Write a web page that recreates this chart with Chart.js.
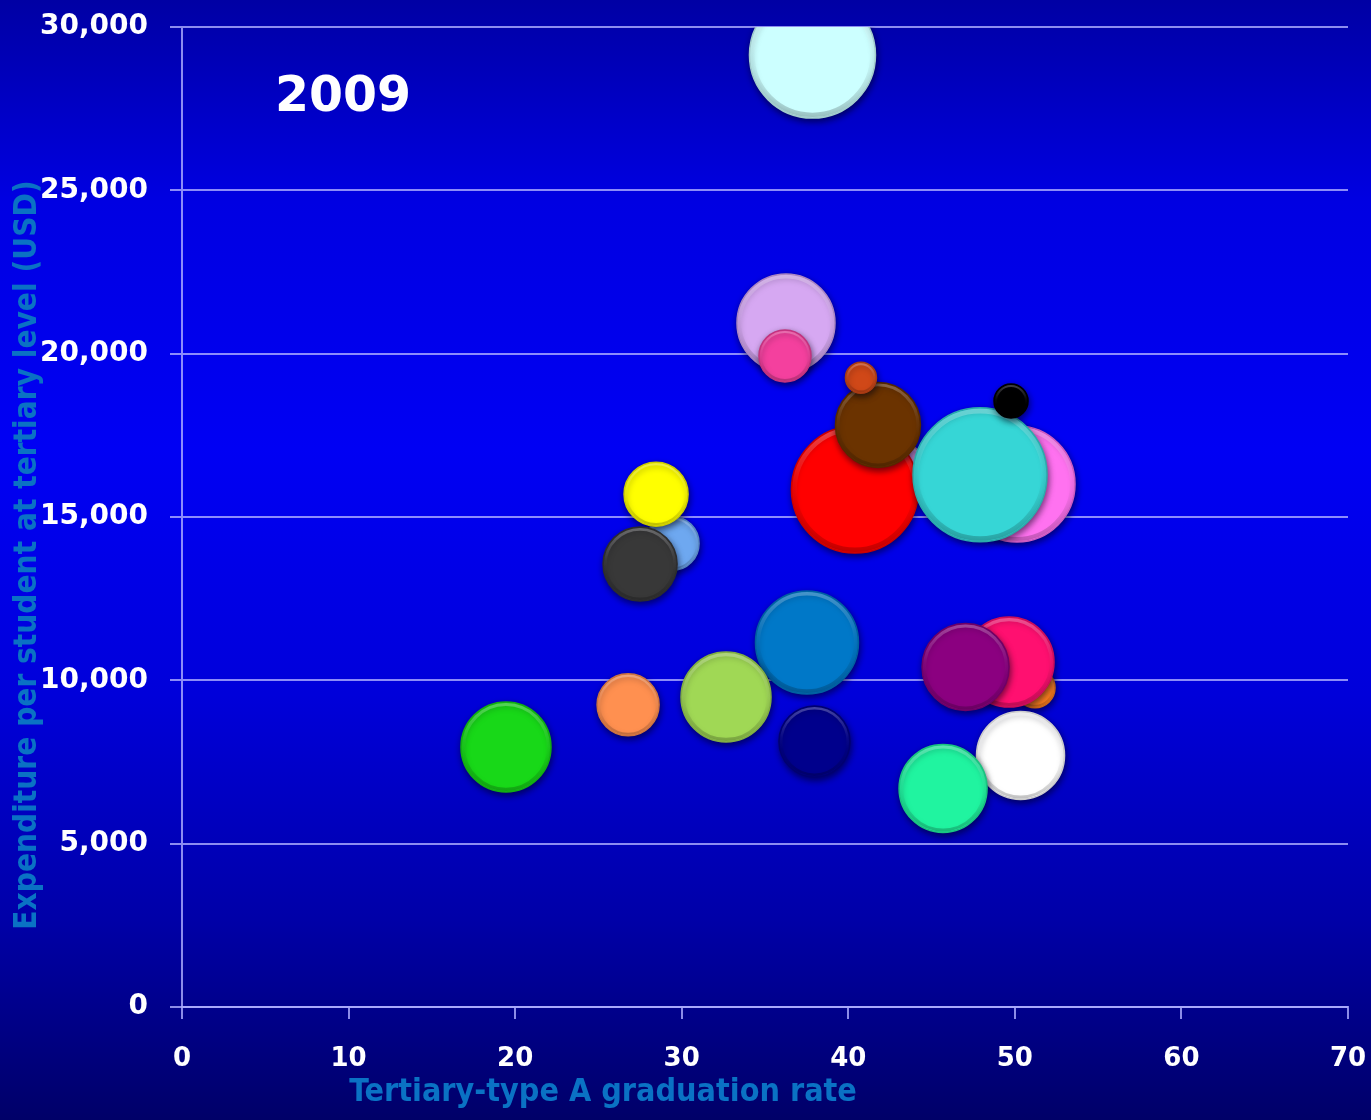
<!DOCTYPE html>
<html>
<head>
<meta charset="utf-8">
<script src="https://cdn.jsdelivr.net/npm/chart.js@4/dist/chart.umd.min.js"></script>
<style>
  html, body { margin: 0; padding: 0; background: #0000c8; }
  #wrap { width: 1371px; height: 1120px; position: relative; }
</style>
</head>
<body>
<div id="wrap"><canvas id="c" width="1371" height="1120"></canvas></div>
<script>
// ---- data ----
const yearLabel = "2009";
const xTitle = "Tertiary-type A graduation rate";
const yTitle = "Expenditure per student at tertiary level (USD)";
const xTicks = [0, 10, 20, 30, 40, 50, 60, 70];
const yTicks = [0, 5000, 10000, 15000, 20000, 25000, 30000];

// graduation rate (%), in drawing order
const gradRate = [43.4, 37.85, 36.26, 36.20, 40.40, 41.78, 40.76, 50.13, 47.91, 49.77,
                  29.42, 28.46, 27.50, 37.52, 32.66, 26.78, 19.45, 37.97, 51.21, 49.65,
                  47.04, 50.34, 45.69];
// expenditure per student (USD)
const expenditure = [16590, 29140, 20940, 19930, 15840, 17820, 19260, 16010, 16290, 18550,
                     14190, 15700, 13560, 11160, 9490, 9250, 7960, 8130, 9770, 10560,
                     10410, 7700, 6690];
// bubble size (third variable)
const bubbleSize = [20, 63, 49, 26, 63.5, 42.5, 15.5, 58, 67, 17,
                    27, 32, 37, 51.5, 45, 31, 45, 35.5, 20, 45,
                    43.5, 44, 44];
const bubbleColors = ["#dca0f0", "#ccffff", "#d6a8f2", "#f4409e", "#ff0000", "#6b3300", "#d04818",
                      "#ff72f0", "#36d6d6", "#000000", "#6ea8f0", "#ffff00", "#383838", "#0078c8",
                      "#a0d855", "#ff9050", "#18d818", "#00008c", "#ff8020", "#ff1070", "#8b0080",
                      "#ffffff", "#20f4a0"];

const points = gradRate.map((x, i) => ({ x: x, y: expenditure[i], r: bubbleSize[i] }));

function darker(hex, f) {
  const n = parseInt(hex.slice(1), 16);
  const r = Math.round(((n >> 16) & 255) * f), g = Math.round(((n >> 8) & 255) * f), b = Math.round((n & 255) * f);
  return "rgb(" + r + "," + g + "," + b + ")";
}

const FONT = "'DejaVu Sans', Verdana, sans-serif";
const TITLE_FONT = "'Comic Sans MS', 'DejaVu Sans Condensed', 'DejaVu Sans', sans-serif";

function fitFont(ctx, text, family, baseSize, targetWidth) {
  ctx.font = "bold " + baseSize + "px " + family;
  const w = ctx.measureText(text).width;
  const s = baseSize * targetWidth / w;
  ctx.font = "bold " + s.toFixed(1) + "px " + family;
}

function zeroPad(s) { s.paddingTop = 0; s.paddingBottom = 0; s.paddingLeft = 0; s.paddingRight = 0; }

const bgPlugin = {
  id: "bg",
  beforeDraw(chart) {
    const ctx = chart.ctx, W = chart.width, H = chart.height;
    ctx.save();
    const g = ctx.createLinearGradient(0, 0, 0, H);
    g.addColorStop(0.00, "#0000a4");
    g.addColorStop(0.18, "#0000e2");
    g.addColorStop(0.40, "#0000f4");
    g.addColorStop(0.62, "#0000da");
    g.addColorStop(0.82, "#0000a8");
    g.addColorStop(1.00, "#000068");
    ctx.fillStyle = g;
    ctx.fillRect(0, 0, W, H);

    // axis titles (drawn beneath tick labels, as in the original)
    ctx.fillStyle = "#0a72c4";
    ctx.textAlign = "center";
    ctx.textBaseline = "middle";
    fitFont(ctx, xTitle, TITLE_FONT, 26, 507);
    ctx.fillText(xTitle, 603, 1093);
    ctx.save();
    ctx.translate(28, 555);
    ctx.rotate(-Math.PI / 2);
    fitFont(ctx, yTitle, TITLE_FONT, 26, 750);
    ctx.fillText(yTitle, 0, 0);
    ctx.restore();

    // year label
    ctx.fillStyle = "#ffffff";
    fitFont(ctx, yearLabel, "'DejaVu Sans', sans-serif", 50, 136);
    ctx.fillText(yearLabel, 343, 98);
    ctx.restore();
  },
  beforeDatasetsDraw(chart) {
    const ctx = chart.ctx;
    ctx.save();
    ctx.shadowColor = "rgba(0,0,20,0.55)";
    ctx.shadowBlur = 6;
    ctx.shadowOffsetX = 1;
    ctx.shadowOffsetY = 3;
  },
  afterDatasetsDraw(chart) {
    chart.ctx.restore();
  }
};

const gridColor = "rgba(175,175,255,0.8)";

const chart = new Chart(document.getElementById("c"), {
  type: "bubble",
  data: {
    datasets: [{
      data: points,
      backgroundColor: bubbleColors,
      borderColor: bubbleColors.map(c => darker(c, 0.8)),
      borderWidth: 1.5,
      hoverRadius: 0
    }]
  },
  options: {
    responsive: false,
    animation: false,
    events: [],
    layout: { autoPadding: false, padding: { top: 27, right: 23, left: 0, bottom: 0 } },
    plugins: { legend: { display: false }, tooltip: { enabled: false } },
    scales: {
      x: {
        type: "linear",
        min: 0, max: 70,
        afterBuildTicks(s) { s.ticks = xTicks.map(v => ({ value: v })); },
        afterFit(s) { s.height = 113; zeroPad(s); },
        ticks: {
          color: "#ffffff",
          font: { family: FONT, size: 26, weight: "bold" },
          padding: 25,
          maxRotation: 0,
          callback: v => String(v)
        },
        grid: { drawOnChartArea: false, color: gridColor, lineWidth: 2, tickLength: 12 },
        border: { color: gridColor, width: 2 }
      },
      y: {
        type: "linear",
        min: 0, max: 30000,
        afterBuildTicks(s) { s.ticks = yTicks.map(v => ({ value: v })); },
        afterFit(s) { s.width = 182; zeroPad(s); },
        ticks: {
          color: "#ffffff",
          font: { family: FONT, size: 28, weight: "bold" },
          padding: 22,
          callback: v => v.toLocaleString("en-US")
        },
        grid: { color: gridColor, lineWidth: 2, tickLength: 12 },
        border: { color: gridColor, width: 2 }
      }
    }
  },
  plugins: [bgPlugin]
});

// Paint a soft bevel rim right after each bubble's fill, so overlaps stay correct
(function () {
  const meta = chart.getDatasetMeta(0);
  meta.data.forEach((el) => {
    const orig = el.draw.bind(el);
    el.draw = function (ctx, area) {
      orig(ctx, area);
      const r = el.options.radius;
      if (!r || r < 4) return;
      ctx.save();
      ctx.shadowColor = "transparent";
      ctx.shadowBlur = 0; ctx.shadowOffsetX = 0; ctx.shadowOffsetY = 0;
      const lw = Math.max(2, r * 0.07);
      const g = ctx.createLinearGradient(el.x, el.y - r, el.x, el.y + r);
      g.addColorStop(0, "rgba(255,255,255,0.28)");
      g.addColorStop(0.45, "rgba(255,255,255,0.03)");
      g.addColorStop(0.6, "rgba(0,0,0,0.03)");
      g.addColorStop(1, "rgba(0,0,0,0.22)");
      ctx.strokeStyle = g;
      ctx.lineWidth = lw;
      ctx.beginPath();
      ctx.arc(el.x, el.y, r - lw / 2 - 1, 0, Math.PI * 2);
      ctx.stroke();
      ctx.restore();
    };
  });
  chart.draw();
})();
</script>
</body>
</html>
